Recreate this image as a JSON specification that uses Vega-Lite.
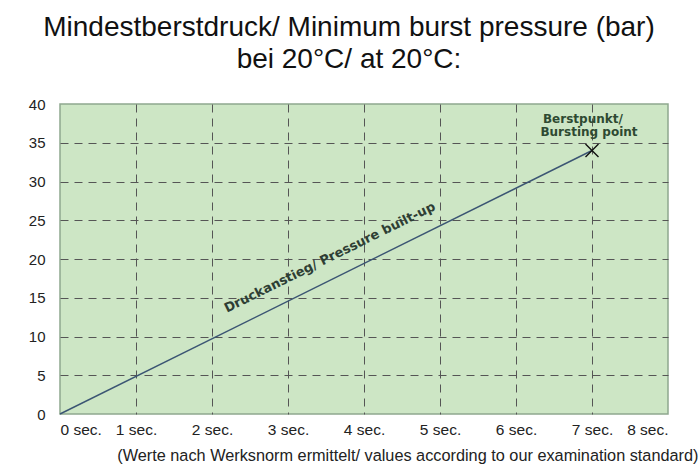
{
  "$schema": "https://vega.github.io/schema/vega-lite/v6.json",
  "width": 608,
  "height": 310,
  "autosize": {"type": "none"},
  "padding": {"left": 60, "top": 104, "right": 32, "bottom": 56},
  "background": "white",
  "title": {
    "text": ["Mindestberstdruck/ Minimum burst pressure (bar)", "bei 20°C/ at 20°C:"],
    "font": "Liberation Sans",
    "fontSize": 28,
    "fontWeight": "normal",
    "color": "#111111",
    "lineHeight": 32,
    "anchor": "middle",
    "dx": -15,
    "offset": 23
  },
  "config": {
    "view": {"fill": "#cde6c5", "stroke": "#8fa88f", "strokeWidth": 1.5},
    "axis": {
      "labelFont": "Liberation Sans",
      "labelColor": "#222222",
      "labelOverlap": false,
      "domain": false,
      "ticks": false,
      "gridColor": "#555555",
      "gridDash": [8, 6],
      "gridWidth": 1
    }
  },
  "datasets": {
    "line": [
      {"sec": 0, "bar": 0},
      {"sec": 7, "bar": 34}
    ],
    "burst": [
      {"sec": 7, "bar": 34}
    ],
    "labels": [
      {"sec": 6.88, "bar": 38.1, "label": "Berstpunkt/"},
      {"sec": 6.96, "bar": 36.4, "label": "Bursting point"}
    ],
    "rise": [
      {"sec": 3.55, "bar": 20.2, "label": "Druckanstieg/ Pressure built-up"}
    ]
  },
  "encoding": {
    "x": {
      "field": "sec", "type": "quantitative",
      "scale": {"domain": [0, 8], "nice": false},
      "axis": {
        "values": [0, 1, 2, 3, 4, 5, 6, 7, 8],
        "labelExpr": "datum.value + ' sec.'",
        "labelFontSize": 15.5,
        "labelPadding": 8,
        "gridOpacity": {"condition": {"test": "datum.value == 0 || datum.value == 8", "value": 0}, "value": 1},
        "title": "(Werte nach Werksnorm ermittelt/ values according to our examination standard)",
        "titleFont": "Liberation Sans",
        "titleFontSize": 16.3,
        "titleFontWeight": "normal",
        "titleColor": "#222222",
        "titleAlign": "right",
        "titleAnchor": null,
        "titleX": 638,
        "titleY": 46,
        "titleBaseline": "alphabetic"
      }
    },
    "y": {
      "field": "bar", "type": "quantitative",
      "scale": {"domain": [0, 40], "nice": false},
      "axis": {
        "values": [0, 5, 10, 15, 20, 25, 30, 35, 40],
        "labelFontSize": 15,
        "labelPadding": 15,
        "gridOpacity": {"condition": {"test": "datum.value == 0 || datum.value == 40", "value": 0}, "value": 1},
        "title": null
      }
    }
  },
  "layer": [
    {
      "data": {"name": "line"},
      "mark": {"type": "line", "color": "#3b5573", "strokeWidth": 1.4}
    },
    {
      "data": {"name": "burst"},
      "mark": {"type": "point", "shape": "M-1,-1L1,1M-1,1L1,-1", "filled": false, "stroke": "#111111", "strokeWidth": 1.4, "size": 169, "opacity": 1}
    },
    {
      "data": {"name": "labels"},
      "mark": {"type": "text", "font": "DejaVu Sans", "fontSize": 12, "fontWeight": "bold", "color": "#2e4a32", "align": "center", "baseline": "middle"},
      "encoding": {
        "text": {"field": "label"}
      }
    },
    {
      "data": {"name": "rise"},
      "mark": {"type": "text", "font": "DejaVu Sans", "fontSize": 13, "fontWeight": "bold", "color": "#2e3e34", "align": "center", "baseline": "middle", "angle": -26.3},
      "encoding": {
        "text": {"field": "label"}
      }
    }
  ]
}
